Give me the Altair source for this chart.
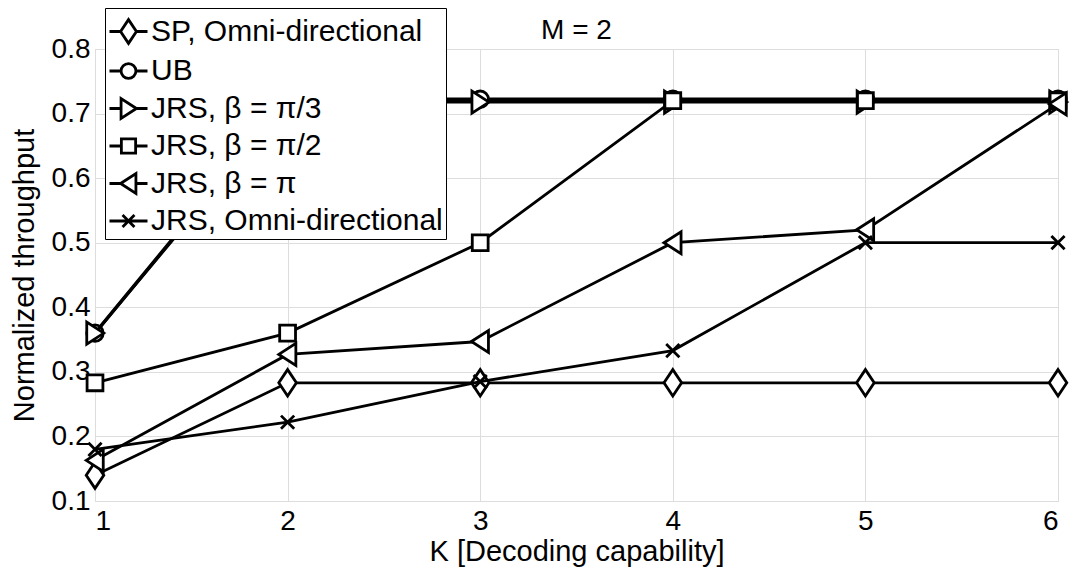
import altair as alt
import pandas as pd

K = [1, 2, 3, 4, 5, 6]
series_names = [
    "SP, Omni-directional",
    "UB",
    "JRS, β = π/3",
    "JRS, β = π/2",
    "JRS, β = π",
    "JRS, Omni-directional",
]
sp_omni = [0.14, 0.283, 0.283, 0.283, 0.283, 0.283]
ub = [0.36, 0.7222, 0.7222, 0.7222, 0.7222, 0.7222]
jrs_pi3 = [0.36, 0.7178, 0.7178, 0.7178, 0.7178, 0.7178]
jrs_pi2 = [0.283, 0.36, 0.50, 0.72, 0.72, 0.72]
jrs_pi = [0.163, 0.327, 0.347, 0.50, 0.52, 0.715]
jrs_omni = [0.18, 0.222, 0.285, 0.333, 0.50, 0.50]
values = [sp_omni, ub, jrs_pi3, jrs_pi2, jrs_pi, jrs_omni]
y_ticks = [0.1, 0.2, 0.3, 0.4, 0.5, 0.6, 0.7, 0.8]

FONT = "Liberation Sans"
line_widths = [2.8, 3.4, 3.0, 2.8, 2.8, 2.8]

rows = []
for name, vals in zip(series_names, values):
    for k, v in zip(K, vals):
        rows.append({"K": k, "thr": v, "series": name})
df = pd.DataFrame(rows)


def fmt(v):
    return f"{v:.3f}".rstrip("0").rstrip(".")


def poly(pts, closed=True):
    s = "M" + "L".join(f"{fmt(x)},{fmt(y)}" for x, y in pts)
    return s + ("Z" if closed else "")


def circle(r):
    return f"M{fmt(r)},0A{fmt(r)},{fmt(r)} 0 1,1 {fmt(-r)},0A{fmt(r)},{fmt(r)} 0 1,1 {fmt(r)},0Z"


def marker_path(kind, s):
    if kind == "diamond":
        return poly([(0, -1.2 * s), (0.8 * s, 0), (0, 1.2 * s), (-0.8 * s, 0)]), 0.8 * s
    if kind == "circle":
        return circle(0.75 * s), 0.75 * s
    if kind == "tri_right":
        return poly([(0.8 * s, 0), (-0.75 * s, -1 * s), (-0.75 * s, 1 * s)]), 0.8 * s
    if kind == "square":
        return poly([(-0.72 * s, -0.72 * s), (0.72 * s, -0.72 * s), (0.72 * s, 0.72 * s), (-0.72 * s, 0.72 * s)]), 0.72 * s
    if kind == "tri_left":
        return poly([(-0.8 * s, 0), (0.75 * s, -1 * s), (0.75 * s, 1 * s)]), 0.8 * s
    if kind == "x":
        a = 0.6 * s
        return f"M{fmt(-a)},{fmt(-a)}L{fmt(a)},{fmt(a)}M{fmt(-a)},{fmt(a)}L{fmt(a)},{fmt(-a)}", 0.0
    raise ValueError(kind)


kinds = ["diamond", "circle", "tri_right", "square", "tri_left", "x"]
plot_paths = [marker_path(k, 1.0)[0] for k in kinds]

LEG_SIDE = 38.0
leg_scale = 22.0 / LEG_SIDE * 0.9
legend_paths = []
for k in kinds:
    p, half = marker_path(k, leg_scale)
    if half > 0:
        stub = f"M-1,0L{fmt(-half)},0M{fmt(half)},0L1,0"
    else:
        stub = "M-1,0L1,0"
    legend_paths.append(p + stub)

x_enc = alt.X(
    "K:Q",
    scale=alt.Scale(domain=[1, 6], nice=False, zero=False),
    axis=alt.Axis(
        title="K [Decoding capability]",
        values=K,
        format="d",
        labelFontSize=28,
        titleFontSize=29,
        titleFontWeight="normal",
        labelPadding=6,
        titlePadding=2,
        ticks=False,
        domain=False,
        grid=True,
    ),
)
y_enc = alt.Y(
    "thr:Q",
    scale=alt.Scale(domain=[0.1, 0.8], nice=False, zero=False),
    axis=alt.Axis(
        title="Normalized throughput",
        values=y_ticks,
        format=".1f",
        labelFontSize=28,
        titleFontSize=29,
        titleFontWeight="normal",
        labelPadding=5,
        titlePadding=12,
        ticks=False,
        domain=False,
        grid=True,
    ),
)

layers = []
for name, path, lw in zip(series_names, plot_paths, line_widths):
    sub = alt.Chart(df).transform_filter(alt.datum.series == name)
    layers.append(
        sub.mark_line(color="black", strokeWidth=lw).encode(x=x_enc, y=y_enc)
    )
    layers.append(
        sub.mark_point(
            shape=path, size=484, filled=True, fill="white", stroke="black",
            strokeWidth=2.8, opacity=1,
        ).encode(x=x_enc, y=y_enc)
    )

# legend-only layer: no data rows survive the filter, the explicit domain keeps all entries
legend_layer = alt.Chart(df).transform_filter(alt.datum.thr < 0).mark_point(
    filled=False, color="black", strokeWidth=2.8, opacity=1
).encode(
    x=x_enc,
    y=y_enc,
    shape=alt.Shape(
        "series:N",
        scale=alt.Scale(domain=series_names, range=legend_paths),
        legend=alt.Legend(
            title=None,
            orient="none",
            legendX=10,
            legendY=-41,
            labelFontSize=30,
            labelFont=FONT,
            labelColor="black",
            labelLimit=0,
            labelOffset=2,
            symbolSize=LEG_SIDE * LEG_SIDE,
            symbolStrokeWidth=2.8,
            symbolOpacity=1,
            symbolStrokeColor="black",
            rowPadding=1.5,
            padding=3,
            fillColor="white",
            strokeColor="black",
            cornerRadius=0,
        ),
    ),
)

chart = (
    alt.layer(*layers, legend_layer)
    .properties(
        width=963,
        height=452,
        title=alt.TitleParams("M = 2", fontSize=28, font=FONT, fontWeight="normal", color="black", offset=-37),
        autosize=alt.AutoSizeParams(type="none"),
        padding={"left": 95, "top": 49, "right": 16, "bottom": 72},
    )
    .configure_view(stroke="#333333", strokeWidth=1.2)
    .configure_axis(
        labelFont=FONT,
        titleFont=FONT,
        labelColor="black",
        titleColor="black",
        titleFontWeight="normal",
        gridColor="#444444",
        gridDash=[2, 3],
        gridWidth=1,
        gridOpacity=0.9,
    )
    .configure(background="white")
)

chart.save("out.html", embed_options={"renderer": "svg", "actions": False})
